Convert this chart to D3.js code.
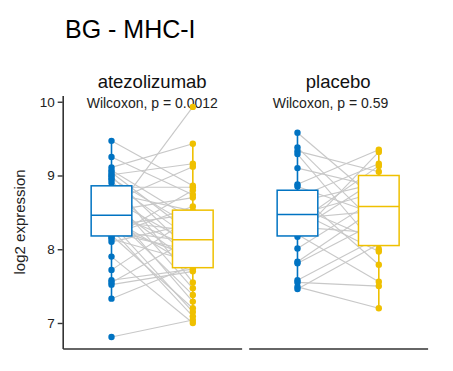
<!DOCTYPE html>
<html>
<head>
<meta charset="utf-8">
<script src="https://cdn.jsdelivr.net/npm/d3@7"></script>
<style>
  body { margin: 0; background: #fff; }
  svg { font-family: "Liberation Sans", Arial, sans-serif; }
</style>
</head>
<body>
<svg id="chart" width="453" height="371"></svg>
<script>
'use strict'

const panels = ["atezolizumab", "placebo"]
const groups = ["pre", "post"]
const pLabels = ["Wilcoxon, p = 0.0012", "Wilcoxon, p = 0.59"]
const yTicks = [7, 8, 9, 10]
const colors = ["#0073C2", "#EFC000"]

// paired values, index i = same patient
const atezoPre = [9.47, 9.25, 9.11, 9.07, 9.04, 9.01, 8.99, 8.96, 8.94, 8.90,
  8.84, 8.80, 8.76, 8.72, 8.68, 8.64, 8.60, 8.56, 8.52, 8.49, 8.46, 8.45,
  8.42, 8.38, 8.35, 8.32, 8.30, 8.27, 8.25, 8.22, 8.20, 8.19, 8.16, 8.14,
  8.10, 7.90, 7.72, 7.58, 7.55, 7.52, 7.33, 6.81]
const atezoPost = [8.86, 8.74, 9.43, 8.40, 8.20, 9.16, 7.94, 8.30, 7.55, 8.13,
  8.84, 7.86, 8.52, 7.47, 8.06, 9.12, 7.80, 7.29, 8.70, 8.02, 7.38, 9.93,
  7.76, 8.25, 7.15, 8.48, 7.90, 7.09, 8.10, 7.98, 8.58, 7.20, 8.80, 7.83,
  8.35, 7.00, 8.44, 7.73, 8.16, 7.70, 7.78, 7.04]
const placeboPre = [9.58, 9.38, 9.33, 9.29, 9.10, 8.88, 8.85, 8.76, 8.70, 8.64,
  8.58, 8.52, 8.47, 8.42, 8.36, 8.30, 8.25, 8.20, 8.17, 8.01, 7.83, 7.81,
  7.58, 7.55, 7.49, 7.46]
const placeboPost = [8.64, 8.30, 9.05, 8.00, 8.84, 9.35, 8.46, 7.79, 9.16, 8.90,
  8.10, 7.97, 8.78, 8.52, 9.13, 8.22, 8.96, 7.56, 9.32, 8.70, 8.58, 8.38,
  8.16, 7.50, 7.20, 8.07]

// box stats: [whisker low, q1, median, q3, whisker high]
const atezoPreBox = [7.33, 8.18, 8.46, 8.86, 9.47]
const atezoPostBox = [7.00, 7.75, 8.13, 8.53, 9.43]
const placeboPreBox = [7.46, 8.18, 8.47, 8.80, 9.58]
const placeboPostBox = [7.20, 8.05, 8.58, 9.00, 9.35]

const panelData = [
  {name: panels[0], pre: atezoPre, post: atezoPost, boxes: [atezoPreBox, atezoPostBox], p: pLabels[0]},
  {name: panels[1], pre: placeboPre, post: placeboPost, boxes: [placeboPreBox, placeboPostBox], p: pLabels[1]}
]

const margins = {top: 95.4, right: 25.4, bottom: 22.5, left: 62.7}
const width = 453, height = 371
const svg = d3.select('#chart')

// y scale with ggplot-like 5% expansion
const allVals = atezoPre.concat(atezoPost, placeboPre, placeboPost)
const ext = d3.extent(allVals)
const pad = (ext[1] - ext[0]) * 0.05
const y = d3.scaleLinear()
  .domain([ext[0] - pad, ext[1] + pad])
  .range([height - margins.bottom, margins.top])

// panels
const panelScale = d3.scaleBand()
  .domain(panels)
  .range([margins.left, width - margins.right])
  .paddingInner(0.038)

// title
svg.append('text')
  .attr('x', 65).attr('y', 38)
  .style('font-size', '25px')
  .attr('fill', '#000')
  .text('BG - MHC-I')

// y axis title
svg.append('text')
  .attr('transform', 'translate(25,' + ((y.range()[0] + y.range()[1]) / 2) + ') rotate(-90)')
  .attr('text-anchor', 'middle')
  .style('font-size', '15px')
  .attr('fill', '#222')
  .text('log2 expression')

panelData.forEach((pd, pi) => {
  const x0 = panelScale(pd.name)
  const x = d3.scalePoint().domain(groups).range([x0, x0 + panelScale.bandwidth()]).padding(0.6)
  const step = x.step()
  const boxW = step * 0.5
  const g = svg.append('g')

  // strip label
  g.append('text')
    .attr('x', x0 + panelScale.bandwidth() / 2).attr('y', 88)
    .attr('text-anchor', 'middle')
    .style('font-size', '18.5px')
    .attr('fill', '#111')
    .text(pd.name)

  // p value label
  g.append('text')
    .attr('x', x0 + 24).attr('y', 107.5)
    .style('font-size', '14px')
    .attr('fill', '#222')
    .text(pd.p)

  // paired lines
  g.selectAll('.pair')
    .data(d3.range(pd.pre.length))
    .enter().append('line')
    .attr('x1', x(groups[0])).attr('x2', x(groups[1]))
    .attr('y1', i => y(pd.pre[i])).attr('y2', i => y(pd.post[i]))
    .attr('stroke', '#c8c8c8').attr('stroke-width', 1.1)

  // points
  const series = [pd.pre, pd.post]
  series.forEach((vals, gi) => {
    g.selectAll('.pt' + gi)
      .data(vals)
      .enter().append('circle')
      .attr('cx', x(groups[gi]))
      .attr('cy', d => y(d))
      .attr('r', 3.2)
      .attr('fill', colors[gi])
  })

  // boxplots on top
  pd.boxes.forEach((b, gi) => {
    const cx = x(groups[gi])
    const col = colors[gi]
    g.append('line').attr('x1', cx).attr('x2', cx).attr('y1', y(b[0])).attr('y2', y(b[1]))
      .attr('stroke', col).attr('stroke-width', 1.6)
    g.append('line').attr('x1', cx).attr('x2', cx).attr('y1', y(b[3])).attr('y2', y(b[4]))
      .attr('stroke', col).attr('stroke-width', 1.6)
    g.append('rect')
      .attr('x', cx - boxW / 2).attr('width', boxW)
      .attr('y', y(b[3])).attr('height', y(b[1]) - y(b[3]))
      .attr('fill', '#fff').attr('stroke', col).attr('stroke-width', 1.5)
    g.append('line').attr('x1', cx - boxW / 2).attr('x2', cx + boxW / 2)
      .attr('y1', y(b[2])).attr('y2', y(b[2]))
      .attr('stroke', col).attr('stroke-width', 1.5)
  })

  // bottom axis line per panel
  const xAxis = g.append('g')
    .attr('transform', 'translate(0,' + y.range()[0] + ')')
    .call(d3.axisBottom(x).tickSize(0).tickSizeOuter(0).tickFormat(''))
  xAxis.select('.domain').attr('stroke', '#333').attr('stroke-width', 1.6)

  // left axis only on first panel
  if (pi === 0) {
    const yAxis = g.append('g')
      .attr('transform', 'translate(' + x0 + ',0)')
      .call(d3.axisLeft(y).tickValues(yTicks).tickSize(5).tickSizeOuter(0).tickFormat(d3.format('d')))
    yAxis.select('.domain').attr('stroke', '#333').attr('stroke-width', 1.6)
    yAxis.selectAll('.tick line').attr('stroke', '#333').attr('stroke-width', 1.4)
    yAxis.selectAll('.tick text').style('font-size', '13.5px').attr('fill', '#222')
  }
})
</script>
</body>
</html>
